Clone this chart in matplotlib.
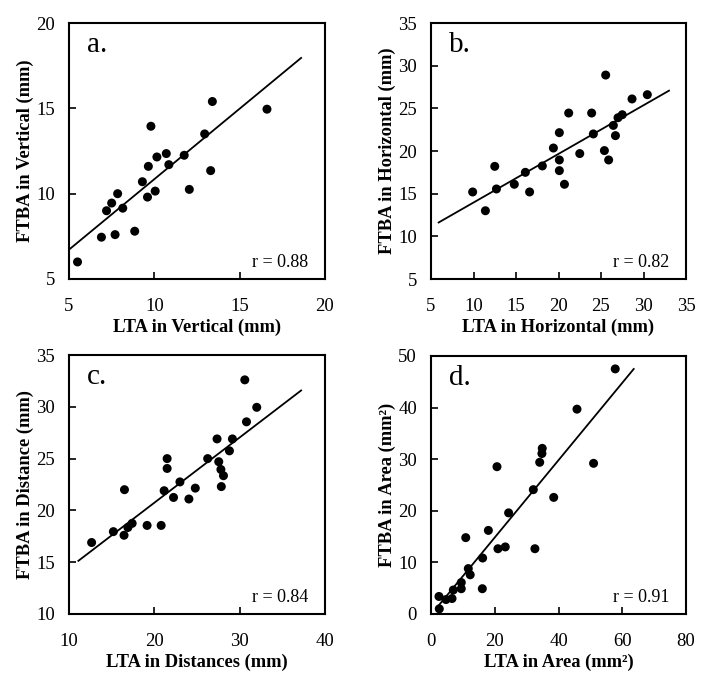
import numpy as np
import matplotlib
matplotlib.use("Agg")
import matplotlib.pyplot as plt

plt.rcParams["font.family"] = ["Liberation Serif", "DejaVu Serif"]

# a. vertical
vert_lta = [5.5, 6.9, 7.2, 7.5, 7.7, 7.85, 8.15, 8.85, 9.3, 9.6, 9.65, 9.8, 10.05,
            10.15, 10.7, 10.85, 11.75, 12.05, 12.95, 13.3, 13.4, 16.6]
vert_ftba = [6.0, 7.45, 9.0, 9.45, 7.6, 10.0, 9.15, 7.8, 10.7, 9.8, 11.6, 13.95, 10.15,
             12.15, 12.35, 11.7, 12.25, 10.25, 13.5, 11.35, 15.4, 14.95]

# b. horizontal
horz_lta = [9.9, 11.4, 12.5, 12.7, 14.8, 16.1, 16.6, 18.1, 19.4, 20.1, 20.1, 20.1,
            20.7, 21.2, 22.5, 23.9, 24.1, 25.4, 25.55, 25.9, 26.45, 26.7, 27.0, 27.5,
            28.65, 30.45]
horz_ftba = [15.2, 13.0, 18.2, 15.55, 16.1, 17.5, 15.2, 18.25, 20.35, 18.95, 17.7, 22.15,
             16.1, 24.45, 19.7, 24.45, 22.0, 20.05, 28.9, 18.95, 23.0, 21.8, 23.9, 24.25,
             26.1, 26.6]

# c. distance
dist_lta = [12.65, 15.2, 16.45, 16.5, 16.9, 17.4, 19.15, 20.8, 21.15, 21.5, 21.5, 22.25,
            23.0, 24.05, 24.8, 26.25, 27.35, 27.55, 27.8, 28.1, 27.85, 28.8, 29.15, 30.6,
            30.8, 32.0]
dist_ftba = [16.9, 17.95, 17.6, 22.0, 18.35, 18.75, 18.55, 18.55, 21.9, 25.0, 24.05, 21.25,
             22.75, 21.1, 22.15, 25.0, 26.9, 24.7, 23.95, 23.35, 22.3, 25.75, 26.9, 32.6,
             28.55, 29.95]

# d. area
area_lta = [2.6, 2.5, 4.7, 6.6, 7.0, 9.5, 9.5, 11.7, 12.3, 10.9, 16.1, 16.2, 18.0, 20.7,
            21.0, 23.3, 24.35, 32.1, 32.6, 34.1, 34.9, 34.8, 38.5, 45.8, 51.0, 57.8]
area_ftba = [1.0, 3.4, 2.8, 3.0, 4.65, 4.9, 6.1, 8.8, 7.6, 14.8, 4.9, 10.85, 16.2, 28.55,
             12.65, 13.0, 19.6, 24.1, 12.65, 29.4, 32.1, 31.1, 22.6, 39.7, 29.2, 47.5]

# trend lines as drawn in the figure: slope, intercept, x-extent
fit_slope = [0.826, 0.570, 0.630, 0.749]
fit_icpt = [2.59, 8.26, 8.14, -0.15]
fit_span = [(5.0, 18.6), (5.9, 33.0), (11.1, 37.2), (1.6, 63.6)]

panels = [
    dict(x=vert_lta, y=vert_ftba, tag="a.", r="r = 0.88", lim=(5, 20), ticks=[5, 10, 15, 20],
         xlabel="LTA in Vertical (mm)", ylabel="FTBA in Vertical (mm)",
         yticks=[5, 10, 15, 20], ylim=(5, 20)),
    dict(x=horz_lta, y=horz_ftba, tag="b.", r="r = 0.82", lim=(5, 35), ticks=list(range(5, 36, 5)),
         xlabel="LTA in Horizontal (mm)", ylabel="FTBA in Horizontal (mm)",
         yticks=list(range(5, 36, 5)), ylim=(5, 35)),
    dict(x=dist_lta, y=dist_ftba, tag="c.", r="r = 0.84", lim=(10, 40), ticks=[10, 20, 30, 40],
         xlabel="LTA in Distances (mm)", ylabel="FTBA in Distance (mm)",
         yticks=list(range(10, 36, 5)), ylim=(10, 35)),
    dict(x=area_lta, y=area_ftba, tag="d.", r="r = 0.91", lim=(0, 80), ticks=[0, 20, 40, 60, 80],
         xlabel="LTA in Area (mm²)", ylabel="FTBA in Area (mm²)",
         yticks=list(range(0, 51, 10)), ylim=(0, 50)),
]

W, H = 708, 687
boxes = [(69, 23, 256, 256), (431, 23, 255, 256), (69, 355, 256, 259), (431, 356, 255, 258)]

fig = plt.figure(figsize=(W / 100, H / 100), dpi=100)
for i, (p, (px, py, pw, ph)) in enumerate(zip(panels, boxes)):
    ax = fig.add_axes([px / W, 1 - (py + ph) / H, pw / W, ph / H])
    ax.scatter(p["x"], p["y"], s=42, color="black", edgecolors="none", zorder=3)
    xs = np.array(fit_span[i])
    ax.plot(xs, fit_slope[i] * xs + fit_icpt[i], color="black", lw=1.3, zorder=2)
    ax.set_xlim(*p["lim"])
    ax.set_ylim(*p["ylim"])
    ax.set_xticks(p["ticks"])
    ax.set_yticks(p["yticks"])
    ax.tick_params(direction="in", length=5, width=1.2, labelsize=13.5,
                   top=False, right=False)
    ax.tick_params(axis="x", pad=14)
    ax.tick_params(axis="y", pad=10)
    for s in ax.spines.values():
        s.set_linewidth(1.5)
    ax.set_xlabel(p["xlabel"], fontsize=13.3, fontweight="bold", labelpad=2)
    ax.set_ylabel(p["ylabel"], fontsize=13.3, fontweight="bold", labelpad=1.5)
    ax.text(0.07, 0.965, p["tag"], transform=ax.transAxes, fontsize=21, va="top", ha="left")
    ax.text(0.935, 0.045, p["r"], transform=ax.transAxes, fontsize=13, va="baseline", ha="right")

fig.savefig("out.png", dpi=100)
